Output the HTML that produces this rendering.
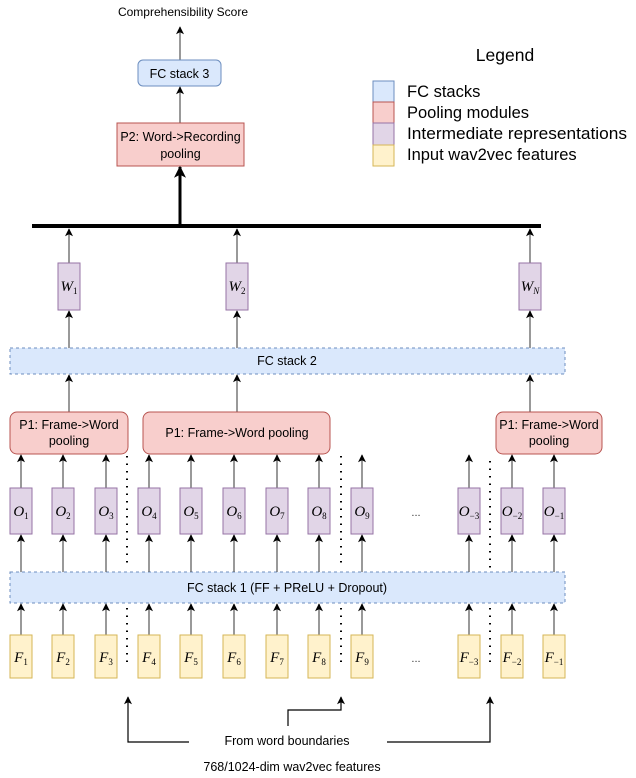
<!DOCTYPE html>
<html><head><style>body{margin:0;background:#fff}svg{display:block}</style></head><body>
<svg width="636" height="778" viewBox="0 0 636 778" xmlns="http://www.w3.org/2000/svg" font-family="Liberation Sans, sans-serif">
<defs>
<marker id="a" viewBox="0 0 10 10" refX="9" refY="5" markerWidth="9" markerHeight="8" orient="auto" markerUnits="userSpaceOnUse"><path d="M0,0 L10,5 L0,10 L2.5,5 z" fill="#000"/></marker>
<marker id="b" viewBox="0 0 10 10" refX="9" refY="5" markerWidth="14" markerHeight="12" orient="auto" markerUnits="userSpaceOnUse"><path d="M0,0 L10,5 L0,10 L2.5,5 z" fill="#000"/></marker>
</defs>
<text x="183" y="16" font-size="12" text-anchor="middle">Comprehensibility Score</text>
<line x1="180" y1="60" x2="180" y2="27" stroke="#555" stroke-width="1.2" marker-end="url(#a)"/>
<rect x="138" y="60" width="83" height="26" rx="5" fill="#dae8fc" stroke="#6c8ebf"/>
<text x="179.5" y="78" font-size="12.5" text-anchor="middle">FC stack 3</text>
<line x1="180" y1="123" x2="180" y2="87" stroke="#555" stroke-width="1.2" marker-end="url(#a)"/>
<rect x="117" y="123" width="127" height="43" fill="#f8cecc" stroke="#b85450"/>
<text x="180.5" y="141" font-size="12.5" text-anchor="middle">P2: Word-&gt;Recording</text>
<text x="180.5" y="158" font-size="12.5" text-anchor="middle">pooling</text>
<line x1="180" y1="224" x2="180" y2="167" stroke="#000" stroke-width="3" marker-end="url(#b)"/>
<line x1="32" y1="226" x2="541" y2="226" stroke="#000" stroke-width="4"/>
<text x="505" y="61" font-size="17.5" text-anchor="middle">Legend</text>
<rect x="373" y="81" width="21" height="21" fill="#dae8fc" stroke="#6c8ebf"/>
<rect x="373" y="102" width="21" height="21" fill="#f8cecc" stroke="#b85450"/>
<rect x="373" y="123" width="21" height="22" fill="#e1d5e7" stroke="#9673a6"/>
<rect x="373" y="145" width="21" height="21" fill="#fff2cc" stroke="#d6b656"/>
<g font-size="16.5"><text x="407" y="97">FC stacks</text><text x="407" y="118">Pooling modules</text><text x="407" y="139" textLength="220" lengthAdjust="spacingAndGlyphs">Intermediate representations</text><text x="407" y="160">Input wav2vec features</text></g>
<g stroke="#555" stroke-width="1.2">
<line x1="69" y1="263" x2="69" y2="229" marker-end="url(#a)"/><line x1="237" y1="263" x2="237" y2="229" marker-end="url(#a)"/><line x1="530" y1="263" x2="530" y2="229" marker-end="url(#a)"/>
<line x1="69" y1="348" x2="69" y2="311" marker-end="url(#a)"/><line x1="237" y1="348" x2="237" y2="311" marker-end="url(#a)"/><line x1="530" y1="348" x2="530" y2="311" marker-end="url(#a)"/>
<line x1="69" y1="412" x2="69" y2="375" marker-end="url(#a)"/><line x1="237" y1="412" x2="237" y2="375" marker-end="url(#a)"/><line x1="530" y1="412" x2="530" y2="375" marker-end="url(#a)"/>
</g>
<g fill="#e1d5e7" stroke="#9673a6"><rect x="58" y="263" width="22" height="47"/><rect x="226" y="263" width="22" height="47"/><rect x="519" y="263" width="22" height="47"/></g>
<g font-family="Liberation Serif, serif" font-style="italic" font-size="15" text-anchor="middle">
<text x="69" y="291">W<tspan font-size="9" font-style="normal" dy="3">1</tspan></text>
<text x="237" y="291">W<tspan font-size="9" font-style="normal" dy="3">2</tspan></text>
<text x="530" y="291">W<tspan font-size="9" dy="3">N</tspan></text>
</g>
<rect x="10" y="348" width="555" height="26" fill="#dae8fc" stroke="#6c8ebf" stroke-dasharray="3,3"/>
<text x="287" y="365" font-size="12.5" text-anchor="middle">FC stack 2</text>
<g fill="#f8cecc" stroke="#b85450"><rect x="10" y="412" width="118" height="42" rx="7"/><rect x="143" y="412" width="187" height="42" rx="7"/><rect x="496" y="412" width="106" height="42" rx="7"/></g>
<g font-size="12.5" text-anchor="middle">
<text x="69" y="429">P1: Frame-&gt;Word</text><text x="69" y="445">pooling</text>
<text x="237" y="437">P1: Frame-&gt;Word pooling</text>
<text x="549" y="429">P1: Frame-&gt;Word</text><text x="549" y="445">pooling</text>
</g>
<rect x="10" y="572" width="555" height="31" fill="#dae8fc" stroke="#6c8ebf" stroke-dasharray="3,3"/>
<text x="287" y="592" font-size="12.5" text-anchor="middle">FC stack 1 (FF + PReLU + Dropout)</text>
<g stroke="#000" stroke-width="2" stroke-dasharray="1.5,6" fill="none">
<line x1="127" y1="456" x2="127" y2="568"/><line x1="127" y1="608" x2="127" y2="666"/>
<line x1="341" y1="456" x2="341" y2="568"/><line x1="341" y1="608" x2="341" y2="666"/>
<line x1="490" y1="461" x2="490" y2="568"/><line x1="490" y1="608" x2="490" y2="668"/>
</g>
<g stroke="#555" stroke-width="1.2">
<line x1="21" y1="635" x2="21" y2="604" marker-end="url(#a)"/><line x1="21" y1="572" x2="21" y2="535" marker-end="url(#a)"/><line x1="21" y1="488" x2="21" y2="455" marker-end="url(#a)"/>
<line x1="63" y1="635" x2="63" y2="604" marker-end="url(#a)"/><line x1="63" y1="572" x2="63" y2="535" marker-end="url(#a)"/><line x1="63" y1="488" x2="63" y2="455" marker-end="url(#a)"/>
<line x1="106" y1="635" x2="106" y2="604" marker-end="url(#a)"/><line x1="106" y1="572" x2="106" y2="535" marker-end="url(#a)"/><line x1="106" y1="488" x2="106" y2="455" marker-end="url(#a)"/>
<line x1="149" y1="635" x2="149" y2="604" marker-end="url(#a)"/><line x1="149" y1="572" x2="149" y2="535" marker-end="url(#a)"/><line x1="149" y1="488" x2="149" y2="455" marker-end="url(#a)"/>
<line x1="191" y1="635" x2="191" y2="604" marker-end="url(#a)"/><line x1="191" y1="572" x2="191" y2="535" marker-end="url(#a)"/><line x1="191" y1="488" x2="191" y2="455" marker-end="url(#a)"/>
<line x1="234" y1="635" x2="234" y2="604" marker-end="url(#a)"/><line x1="234" y1="572" x2="234" y2="535" marker-end="url(#a)"/><line x1="234" y1="488" x2="234" y2="455" marker-end="url(#a)"/>
<line x1="277" y1="635" x2="277" y2="604" marker-end="url(#a)"/><line x1="277" y1="572" x2="277" y2="535" marker-end="url(#a)"/><line x1="277" y1="488" x2="277" y2="455" marker-end="url(#a)"/>
<line x1="319" y1="635" x2="319" y2="604" marker-end="url(#a)"/><line x1="319" y1="572" x2="319" y2="535" marker-end="url(#a)"/><line x1="319" y1="488" x2="319" y2="455" marker-end="url(#a)"/>
<line x1="362" y1="635" x2="362" y2="604" marker-end="url(#a)"/><line x1="362" y1="572" x2="362" y2="535" marker-end="url(#a)"/><line x1="362" y1="488" x2="362" y2="455" marker-end="url(#a)"/>
<line x1="469" y1="635" x2="469" y2="604" marker-end="url(#a)"/><line x1="469" y1="572" x2="469" y2="535" marker-end="url(#a)"/><line x1="469" y1="488" x2="469" y2="455" marker-end="url(#a)"/>
<line x1="512" y1="635" x2="512" y2="604" marker-end="url(#a)"/><line x1="512" y1="572" x2="512" y2="535" marker-end="url(#a)"/><line x1="512" y1="488" x2="512" y2="455" marker-end="url(#a)"/>
<line x1="554" y1="635" x2="554" y2="604" marker-end="url(#a)"/><line x1="554" y1="572" x2="554" y2="535" marker-end="url(#a)"/><line x1="554" y1="488" x2="554" y2="455" marker-end="url(#a)"/>
</g>
<g fill="#e1d5e7" stroke="#9673a6">
<rect x="10" y="488" width="22" height="46"/><rect x="52" y="488" width="22" height="46"/><rect x="95" y="488" width="22" height="46"/><rect x="138" y="488" width="22" height="46"/><rect x="180" y="488" width="22" height="46"/><rect x="223" y="488" width="22" height="46"/><rect x="266" y="488" width="22" height="46"/><rect x="308" y="488" width="22" height="46"/><rect x="351" y="488" width="22" height="46"/><rect x="458" y="488" width="22" height="46"/><rect x="501" y="488" width="22" height="46"/><rect x="543" y="488" width="22" height="46"/>
</g>
<g fill="#fff2cc" stroke="#d6b656">
<rect x="10" y="635" width="22" height="43"/><rect x="52" y="635" width="22" height="43"/><rect x="95" y="635" width="22" height="43"/><rect x="138" y="635" width="22" height="43"/><rect x="180" y="635" width="22" height="43"/><rect x="223" y="635" width="22" height="43"/><rect x="266" y="635" width="22" height="43"/><rect x="308" y="635" width="22" height="43"/><rect x="351" y="635" width="22" height="43"/><rect x="458" y="635" width="22" height="43"/><rect x="501" y="635" width="22" height="43"/><rect x="543" y="635" width="22" height="43"/>
</g>
<g font-family="Liberation Serif, serif" font-style="italic" font-size="15" text-anchor="middle">
<text x="21" y="516">O<tspan font-size="9" font-style="normal" dy="3">1</tspan></text>
<text x="63" y="516">O<tspan font-size="9" font-style="normal" dy="3">2</tspan></text>
<text x="106" y="516">O<tspan font-size="9" font-style="normal" dy="3">3</tspan></text>
<text x="149" y="516">O<tspan font-size="9" font-style="normal" dy="3">4</tspan></text>
<text x="191" y="516">O<tspan font-size="9" font-style="normal" dy="3">5</tspan></text>
<text x="234" y="516">O<tspan font-size="9" font-style="normal" dy="3">6</tspan></text>
<text x="277" y="516">O<tspan font-size="9" font-style="normal" dy="3">7</tspan></text>
<text x="319" y="516">O<tspan font-size="9" font-style="normal" dy="3">8</tspan></text>
<text x="362" y="516">O<tspan font-size="9" font-style="normal" dy="3">9</tspan></text>
<text x="469" y="516">O<tspan font-size="9" font-style="normal" dy="3">−3</tspan></text>
<text x="512" y="516">O<tspan font-size="9" font-style="normal" dy="3">−2</tspan></text>
<text x="554" y="516">O<tspan font-size="9" font-style="normal" dy="3">−1</tspan></text>
<text x="21" y="662">F<tspan font-size="9" font-style="normal" dy="3">1</tspan></text>
<text x="63" y="662">F<tspan font-size="9" font-style="normal" dy="3">2</tspan></text>
<text x="106" y="662">F<tspan font-size="9" font-style="normal" dy="3">3</tspan></text>
<text x="149" y="662">F<tspan font-size="9" font-style="normal" dy="3">4</tspan></text>
<text x="191" y="662">F<tspan font-size="9" font-style="normal" dy="3">5</tspan></text>
<text x="234" y="662">F<tspan font-size="9" font-style="normal" dy="3">6</tspan></text>
<text x="277" y="662">F<tspan font-size="9" font-style="normal" dy="3">7</tspan></text>
<text x="319" y="662">F<tspan font-size="9" font-style="normal" dy="3">8</tspan></text>
<text x="362" y="662">F<tspan font-size="9" font-style="normal" dy="3">9</tspan></text>
<text x="469" y="662">F<tspan font-size="9" font-style="normal" dy="3">−3</tspan></text>
<text x="512" y="662">F<tspan font-size="9" font-style="normal" dy="3">−2</tspan></text>
<text x="554" y="662">F<tspan font-size="9" font-style="normal" dy="3">−1</tspan></text>
</g>
<g font-size="11" fill="#333" text-anchor="middle"><text x="416" y="516">...</text><text x="416" y="662">...</text></g>
<g stroke="#000" stroke-width="1.2" fill="none">
<polyline points="189,742 128,742 128,697" marker-end="url(#a)"/>
<polyline points="288,726 288,710 341,710 341,697" marker-end="url(#a)"/>
<polyline points="387,742 490,742 490,697" marker-end="url(#a)"/>
</g>
<text x="287" y="745" font-size="12.5" text-anchor="middle">From word boundaries</text>
<text x="292" y="771" font-size="12.5" text-anchor="middle">768/1024-dim wav2vec features</text>
</svg>
</body></html>
